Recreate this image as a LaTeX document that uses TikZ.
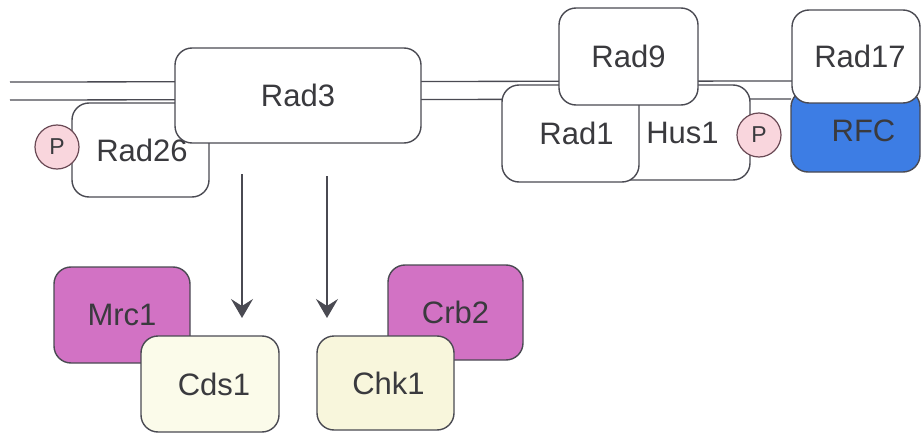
\documentclass[tikz,border=0pt]{standalone}
\usepackage{fontspec}
\setmainfont{Liberation Sans}
\usetikzlibrary{arrows.meta}
\definecolor{edge}{HTML}{4A4A52}
\definecolor{ink}{HTML}{3A3A3E}
\definecolor{magentafill}{HTML}{D272C4}
\definecolor{creamA}{HTML}{FBFBEA}
\definecolor{creamB}{HTML}{F8F6DC}
\definecolor{rfcblue}{HTML}{3D7DE4}
\definecolor{phosfill}{HTML}{F9D6DD}
\definecolor{phosedge}{HTML}{6A4A55}
\begin{document}
\begin{tikzpicture}[x=1pt,y=-1pt,
  box/.style={draw=edge, line width=1.4pt, fill=white, rounded corners=17pt,
    font=\fontsize{31}{32}\selectfont, text=ink, inner sep=0pt},
  phos/.style={circle, draw=phosedge, line width=1.2pt, fill=phosfill,
    minimum size=44pt, inner sep=0pt, font=\fontsize{23}{24}\selectfont, text=ink},
  strand/.style={draw=edge, line width=1.3pt},
  signal/.style={draw=edge, line width=1.6pt,
    -{Stealth[length=19pt, width=22pt, inset=7pt]}}
]
\useasboundingbox (0,0) rectangle (921,433);

% DNA duplex
\coordinate (dnaTopL) at (10,82);
\coordinate (dnaTopR) at (792,81);
\coordinate (dnaBotL) at (10,100);
\coordinate (dnaBotR) at (791,99);
\draw[strand] (dnaTopL) -- (dnaTopR);
\draw[strand] (dnaBotL) -- (dnaBotR);

% Rad3-Rad26 complex
\node[box, minimum width=137pt, minimum height=94pt] (rad26) at (140.5,150) {\hspace*{3pt}Rad26};
\node[phos] (p1) at (57,147) {P};
\node[box, minimum width=246pt, minimum height=95pt] (rad3) at (298,95.5) {Rad3};

% 9-1-1 clamp
\node[box, minimum width=135pt, minimum height=95pt] (hus1) at (682.5,132.5) {Hus1};
\node[box, minimum width=137pt, minimum height=97pt] (rad1) at (570.5,133.5) {\hspace*{12pt}Rad1};
\node[box, minimum width=139pt, minimum height=97pt] (rad9) at (628.5,56.5) {Rad9};
\node[phos] (p2) at (759,135) {P};

% Rad17-RFC clamp loader
\node[box, fill=rfcblue, minimum width=129pt, minimum height=82pt] (rfc) at (855.5,131) {\hspace*{16pt}RFC};
\node[box, minimum width=128pt, minimum height=93pt] (rad17) at (856,56.5) {\hspace*{8pt}Rad17};

% Effector kinases and mediators
\node[box, fill=magentafill, minimum width=136pt, minimum height=96pt] (mrc1) at (122,315) {Mrc1};
\node[box, fill=creamA, minimum width=138pt, minimum height=96pt] (cds1) at (210,384) {\hspace*{8pt}Cds1};
\node[box, fill=magentafill, minimum width=135pt, minimum height=95pt] (crb2) at (455.5,312.5) {Crb2};
\node[box, fill=creamB, minimum width=137pt, minimum height=94pt] (chk1) at (385.5,383) {\hspace*{6pt}Chk1};

% Signalling arrows
\coordinate (sigA) at (242,174);
\coordinate (sigAend) at (242,318);
\coordinate (sigB) at (327,176);
\coordinate (sigBend) at (327,318);
\draw[signal] (sigA) -- (sigAend);
\draw[signal] (sigB) -- (sigBend);
\end{tikzpicture}
\end{document}
